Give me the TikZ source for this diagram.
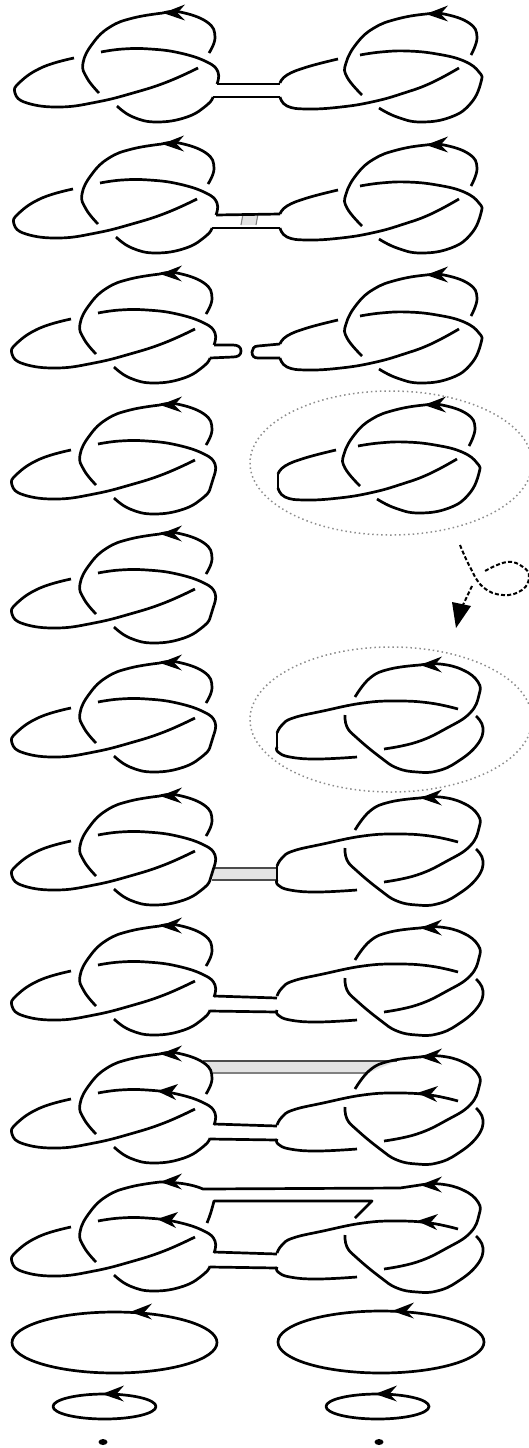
\documentclass[tikz,border=0pt]{standalone}
\usepackage{amsmath}
\usetikzlibrary{arrows.meta}

\tikzset{
  strand/.style={line width=2.7pt, line join=round, tension=0.75},
  band/.style={fill=gray!22, draw=none},
  bandedge/.style={line width=1.1pt, draw=black!70},
  halo/.style={dash pattern=on 1.5pt off 3pt, line width=1.5pt, draw=gray!90},
  move/.style={dash pattern=on 4pt off 2.2pt, line width=2pt, tension=0.75}
}

% arrow head pointing left
\newcommand{\tipleft}[2]{\fill (#1,#2) -- ++(22,-8.5) -- ++(-7.5,8.5) -- ++(7.5,7.5) -- cycle;}

% left knot, without the arc that closes the top loop
\newcommand{\knotleft}{
  \draw[strand] plot[smooth] coordinates {(163,13) (133,18) (110,27) (93,43) (83,63) (87,78) (99,93)};
  \draw[strand] plot[smooth] coordinates {(101,52) (123,49) (150,49) (180,53) (207,62) (218,72) (217,84)};
  \draw[strand] plot[smooth] coordinates {(74,58) (43,67) (20,82) (15,93) (27,103) (60,107) (97,102) (133,93) (167,82) (198,68)};
  \draw[strand] plot[smooth] coordinates {(117,106) (133,117) (157,122) (187,117) (207,105) (213,97)};
  \tipleft{163}{13}
}
\newcommand{\capleft}{
  \draw[strand] plot[smooth] coordinates {(209,53) (215,37) (207,22) (180,12) (163,13)};
}

% right knot as in the upper rows
\newcommand{\knotright}{
  \draw[strand] plot[smooth] coordinates {(471,55) (477,37) (469,23) (444,14) (426,14) (397,19) (374,28) (357,43) (346,63) (347,77) (362,95)};
  \draw[strand] plot[smooth] coordinates {(360,55) (381,52) (407,51) (437,54) (464,61) (479,72) (481,82) (471,103) (451,117) (421,122) (397,117) (379,108)};
  \draw[strand] plot[smooth] coordinates {(338,59) (307,67) (287,75) (280,83)};
  \draw[strand] plot[smooth] coordinates {(280,97) (287,106) (307,109) (341,107) (374,101.5) (404,93) (431,83) (459,68)};
  \tipleft{426}{14}
}

% right knot after the crossing change, without the short arc left of the arrow
\newcommand{\knotflip}{
  \draw[strand] plot[smooth] coordinates {(420,665) (440,664) (463,670) (478,682) (479,695) (470,713) (447,728) (417,742) (384,749)};
  \draw[strand] plot[smooth] coordinates {(458,709) (430,703) (397,701) (363,703) (323,711) (293,718) (282,725) (277,733)};
  \draw[strand] plot[smooth] coordinates {(277,747) (278,752) (290,757) (317,759) (357,757)};
  \draw[strand] plot[smooth] coordinates {(476,716) (483,728) (477,745) (457,762) (437,771) (417,772) (397,768) (380,757) (357,738) (347,727) (345,715)};
  \tipleft{420}{665}
}
\newcommand{\capflip}{
  \draw[strand] plot[smooth] coordinates {(355,697) (370,678) (390,669) (420,665)};
}

\begin{document}
\begin{tikzpicture}[x=1pt, y=-1pt]
    \useasboundingbox (0,0) rectangle (529,1448);

    % Bands first, strands run over them
    % Row 2 small band
    \draw[band] (243,214) -- (258,214) -- (256,225) -- (241,225) -- cycle;
    \draw[bandedge, draw=gray] (243,214) -- (241,225);
    \draw[bandedge, draw=gray] (258,214) -- (256,225);
    % Row 7 band
    \fill[band] (213,868) rectangle (277,880);
    \draw[bandedge] (215,868) -- (277,868);
    \draw[bandedge] (212,880) -- (277,880);
    % Row 9 band across the top
    \fill[band] (203,1061) -- (397,1061) -- (368,1073) -- (213,1073) -- cycle;
    \draw[bandedge] (203,1061) -- (397,1061);
    \draw[bandedge, draw=gray] (213,1073) -- (368,1073);

    % Left knots, rows 1 to 10
    \foreach \dx/\dy in {0/0, -1/131, -3/261, -3/392, -3/521, -3/650, -3/783, -3/913, -3/1041, -3/1169} {
        \begin{scope}[shift={(\dx,\dy)}]
            \knotleft
        \end{scope}
    }
    % top arcs on the left, row 10 has its own
    \foreach \dx/\dy in {0/0, -1/131, -3/261, -3/392, -3/521, -3/650, -3/783, -3/913, -3/1041} {
        \begin{scope}[shift={(\dx,\dy)}]
            \capleft
        \end{scope}
    }

    % Right knots, rows 1 to 4
    \foreach \dx/\dy in {0/0, 0/131, 0/261, -2/391} {
        \begin{scope}[shift={(\dx,\dy)}]
            \knotright
        \end{scope}
    }

    % Right knots after the move, rows 6 to 10
    \foreach \dy in {0, 133, 263, 392, 520} {
        \begin{scope}[shift={(0,\dy)}]
            \knotflip
        \end{scope}
    }
    \foreach \dy in {0, 133, 263, 392} {
        \begin{scope}[shift={(0,\dy)}]
            \capflip
        \end{scope}
    }

    % Row 1 neck
    \draw[strand] (217,84) -- (280,84);
    \draw[strand] (213,97) -- (280,97);

    % Row 2 neck
    \draw[strand] (216,215) -- (280,214);
    \draw[strand] (212,228) -- (280,228);

    % Row 3 open neck
    \draw[strand] (214,345) -- (233,345) .. controls (238,345) and (241,347) .. (241,351) .. controls (241,355) and (238,357) .. (233,357) -- (210,358);
    \draw[strand] (280,344) -- (258,346) .. controls (254,346) and (252,349) .. (252,352) .. controls (252,356) and (254,358) .. (258,358) -- (280,358);

    % Rows 4 to 7: closed ends
    \foreach \dy in {392, 521, 650, 783} {
        \draw[strand] (214,84+\dy) -- (210,97+\dy);
    }
    \draw[strand] (278,474) -- (278,488);
    \draw[strand] (277,733) -- (277,747);
    \draw[strand] (277,866) -- (277,880);

    % Rows 8 to 10 necks
    \draw[strand] (214,996) -- (277,998);
    \draw[strand] (210,1011) -- (277,1012);
    \draw[strand] (214,1124) -- (277,1126);
    \draw[strand] (210,1139) -- (277,1140);
    \draw[strand] (214,1252) -- (277,1254);
    \draw[strand] (210,1267) -- (277,1268);

    % Row 10 banded strands
    \draw[strand] (160,1182) .. controls (175,1182) and (192,1184) .. (203,1189) -- (400,1188) -- (420,1185);
    \draw[strand] (207,1223) .. controls (210,1216) and (212,1209) .. (214,1201) -- (372,1201) -- (355,1218);

    % Extra arrows on the second strand
    \foreach \dy in {1041, 1169} {
        \fill (157,50+\dy) -- ++(21,-7) -- ++(-7,9) -- ++(5,7) -- cycle;
    }
    \foreach \dy in {392, 520} {
        \fill (417,701+\dy) -- ++(21,-7) -- ++(-7,8) -- ++(6,8) -- cycle;
    }

    % Dotted rings
    \draw[halo] (391,463) ellipse [x radius=141, y radius=72];
    \draw[halo] (391,719.5) ellipse [x radius=141, y radius=72.5];

    % Dashed move arrow
    \draw[move] plot[smooth] coordinates {(460,545) (470,567) (483,587) (503,595) (522,590) (529,577) (523,567) (507,562) (485,571)};
    \draw[move] (472,586) -- (463,605);
    \fill (456,628) -- (452,602) -- (471,606) -- cycle;

    % Unknots
    \foreach \cx/\cy/\rx/\ry/\tipx in {114.5/1342.5/102.5/30.5/130, 381/1342/103/31/392, 104.5/1406.5/51.5/12.5/102, 377.5/1406.5/51.5/12.5/375} {
        \draw[strand] (\cx,\cy) ellipse [x radius=\rx, y radius=\ry];
        \tipleft{\tipx}{\cy-\ry}
    }

    % Points
    \fill (103,1442) ellipse [x radius=4.5, y radius=3];
    \fill (379,1442) ellipse [x radius=4.5, y radius=3];
\end{tikzpicture}
\end{document}
